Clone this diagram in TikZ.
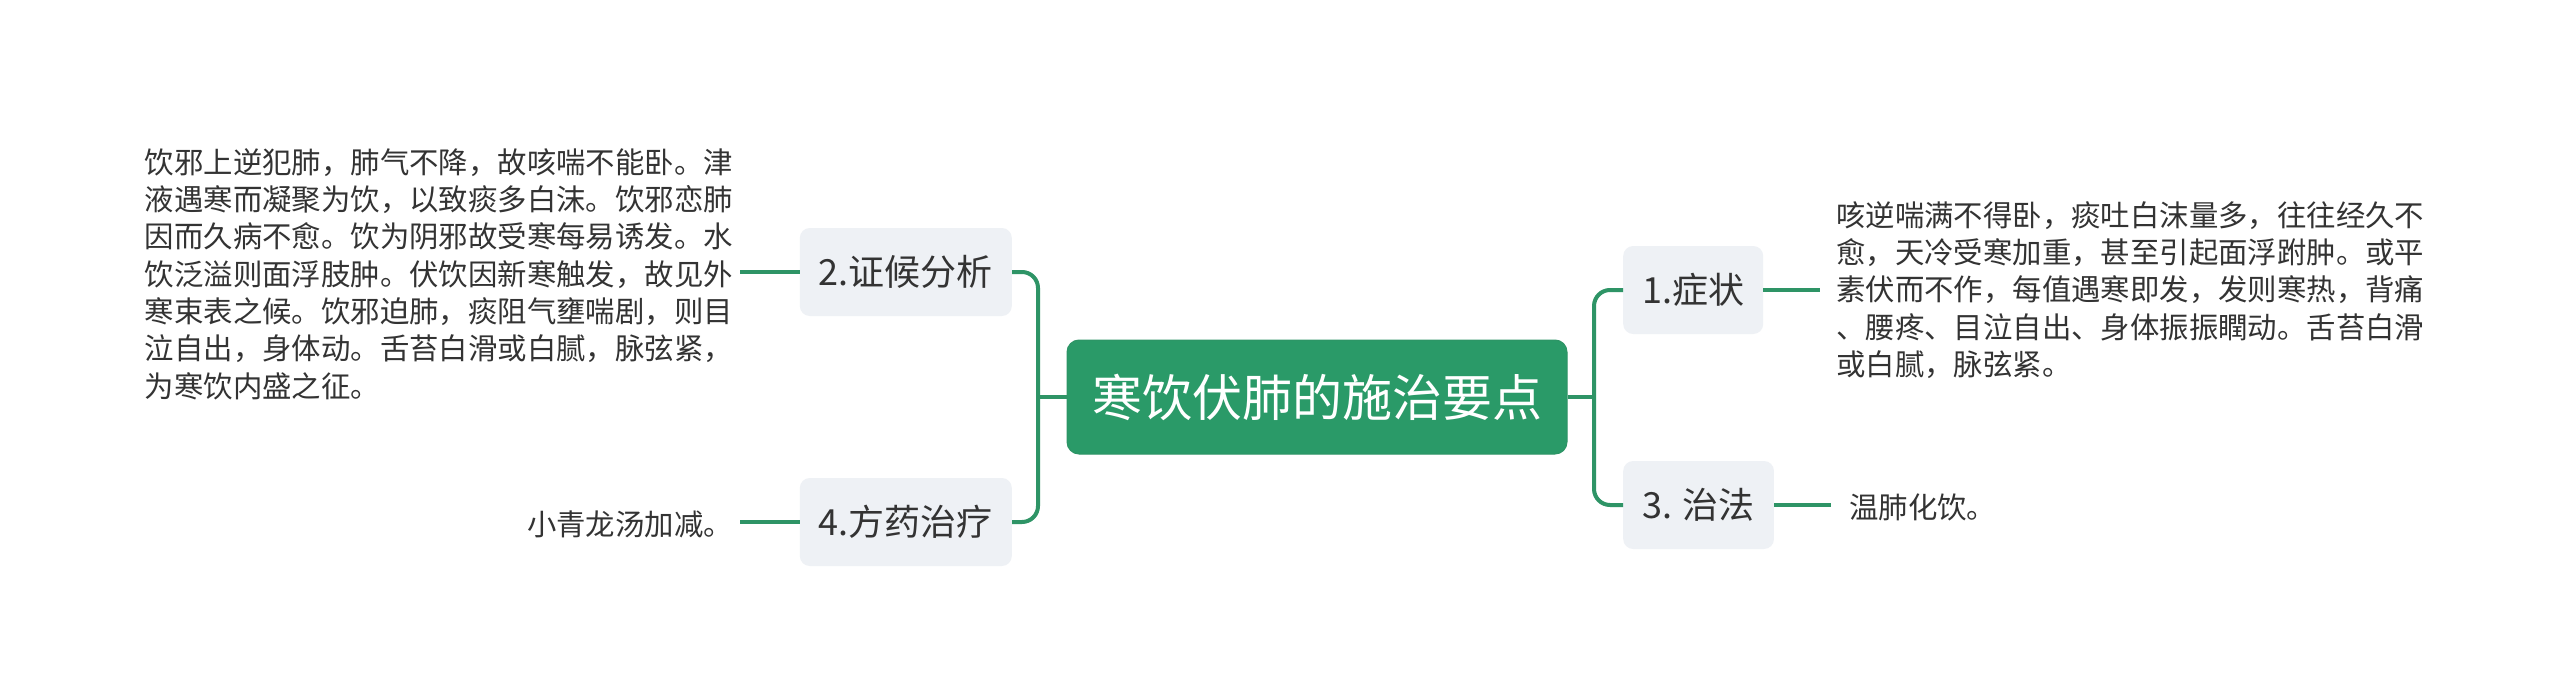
\documentclass[tikz,border=0pt]{standalone}
\usepackage{fontspec}
\setmainfont{Noto Sans CJK SC}
\definecolor{mgreen}{HTML}{2A9A68}
\definecolor{lgreen}{HTML}{2E9466}
\definecolor{boxfill}{HTML}{EEF1F5}
\definecolor{txt}{HTML}{333333}
\begin{document}
\begin{tikzpicture}[x=1pt,y=-1pt,
  conn/.style={draw=lgreen, line width=4pt, rounded corners=16pt},
  topic/.style={fill=boxfill, rounded corners=10pt, minimum height=88pt, inner xsep=19pt, text=txt, font=\fontsize{36}{40}\selectfont},
  leaf/.style={text=txt, align=left, inner ysep=0pt, font=\fontsize{29.4}{37.3}\selectfont}]
\useasboundingbox[fill=white] (0,0) rectangle (2560,693);
\node[fill=mgreen, draw=lgreen, line width=1pt, rounded corners=12pt, minimum width=500pt, minimum height=114pt, text=white, font=\fontsize{50}{56}\selectfont] (c) at (1317,397) {寒饮伏肺的施治要点};
\node[topic, anchor=east] (n2) at (1012,272) {2.证候分析};
\node[topic, anchor=east] (n4) at (1012,522) {4.方药治疗};
\node[topic, anchor=west] (n1) at (1623,290) {1.症状};
\node[topic, anchor=west] (n3) at (1623,505) {3. 治法};
\coordinate (jl) at (1038,397);
\coordinate (jr) at (1594,397);
\node[leaf, inner xsep=7pt, anchor=east] (t2) at (740,274) {饮邪上逆犯肺，肺气不降，故咳喘不能卧。津\\液遇寒而凝聚为饮，以致痰多白沫。饮邪恋肺\\因而久病不愈。饮为阴邪故受寒每易诱发。水\\饮泛溢则面浮肢肿。伏饮因新寒触发，故见外\\寒束表之候。饮邪迫肺，痰阻气壅喘剧，则目\\泣自出，身体动。舌苔白滑或白腻，脉弦紧，\\为寒饮内盛之征。};
\node[leaf, inner xsep=7pt, anchor=east] (t4) at (740,524) {小青龙汤加减。};
\node[leaf, inner xsep=16pt, anchor=west] (t1) at (1820,290) {咳逆喘满不得卧，痰吐白沫量多，往往经久不\\愈，天冷受寒加重，甚至引起面浮跗肿。或平\\素伏而不作，每值遇寒即发，发则寒热，背痛\\、腰疼、目泣自出、身体振振瞤动。舌苔白滑\\或白腻，脉弦紧。};
\node[leaf, inner xsep=18pt, anchor=west] (t3) at (1831,507) {温肺化饮。};
\draw[conn] (c.west) -- (jl);
\draw[conn] (n2.east) -| (jl) |- (n4.east);
\draw[conn] (c.east) -- (jr);
\draw[conn] (n1.west) -| (jr) |- (n3.west);
\draw[conn] (n2.west) -- (n2.west -| t2.east);
\draw[conn] (n4.west) -- (n4.west -| t4.east);
\draw[conn] (n1.east) -- (n1.east -| t1.west);
\draw[conn] (n3.east) -- (n3.east -| t3.west);
\end{tikzpicture}
\end{document}
